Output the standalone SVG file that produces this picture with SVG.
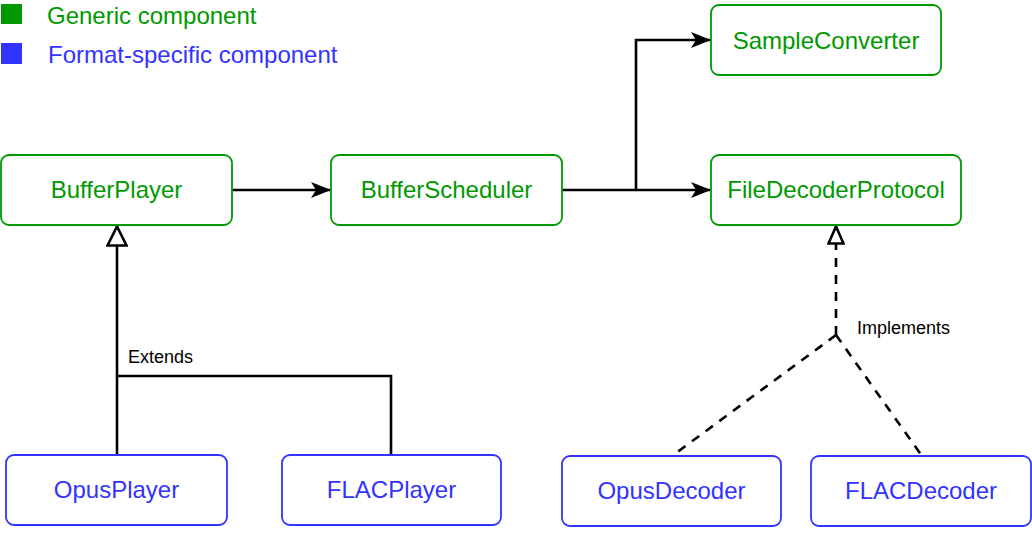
<svg xmlns="http://www.w3.org/2000/svg" width="1032" height="539" viewBox="0 0 1032 539">
<defs>
<style>
.g rect{fill:#fff;stroke:#009900;stroke-width:1.8}
.b rect{fill:#fff;stroke:#3333FF;stroke-width:1.8}
.g text{fill:#009900}
.b text{fill:#3333FF}
text{font-family:"Liberation Sans",Arial,sans-serif}
.nt{font-size:24px;text-anchor:middle;dominant-baseline:central}
.lg{font-size:24px;dominant-baseline:central}
.lbl{font-size:18px;fill:#000;dominant-baseline:central}
.c{fill:none;stroke:#000;stroke-width:2.6}
.d{stroke-dasharray:9 8}
</style>
<marker id="arr" viewBox="0 0 20 16" refX="19" refY="8" markerWidth="20" markerHeight="16" markerUnits="userSpaceOnUse" orient="auto">
<path d="M0,0 L20,8 L0,16 L5,8 Z" fill="#000"/>
</marker>
<marker id="tri" viewBox="0 0 22 22" refX="21" refY="11" markerWidth="22" markerHeight="22" markerUnits="userSpaceOnUse" orient="auto">
<path d="M1.5,1.5 L20.5,11 L1.5,20.5 Z" fill="#fff" stroke="#000" stroke-width="2.6"/>
</marker>
<marker id="tri2" viewBox="0 0 20 18" refX="19" refY="9" markerWidth="20" markerHeight="18" markerUnits="userSpaceOnUse" orient="auto">
<path d="M1.5,1.5 L18.5,9 L1.5,16.5 Z" fill="#fff" stroke="#000" stroke-width="2.6"/>
</marker>
</defs>
<g id="legend">
<rect x="1" y="4" width="21" height="20" fill="#009900"/>
<text class="lg" x="47" y="15" fill="#009900">Generic component</text>
<rect x="1" y="43" width="21" height="21" fill="#3333FF"/>
<text class="lg" x="48" y="54" fill="#3333FF">Format-specific component</text>
</g>
<g id="connectors">
<path class="c" d="M232,190 H330" marker-end="url(#arr)"/>
<path class="c" d="M562,190 H710" marker-end="url(#arr)"/>
<path class="c" d="M636,190 V40 H710" marker-end="url(#arr)"/>
<path class="c" d="M117,455 V226" marker-end="url(#tri)"/>
<path class="c" d="M391,455 V376 H117"/>
<path class="c d" d="M836,335 V226" marker-end="url(#tri2)"/>
<path class="c d" d="M836,335 L672,456"/>
<path class="c d" d="M836,335 L922,456"/>
<text class="lbl" x="128" y="357">Extends</text>
<text class="lbl" x="857" y="328">Implements</text>
</g>
<g id="SampleConverter" class="g"><rect x="711" y="5" width="230" height="70" rx="8"/><text class="nt" x="826" y="40">SampleConverter</text></g>
<g id="BufferPlayer" class="g"><rect x="1" y="155" width="231" height="70" rx="8"/><text class="nt" x="116.5" y="189">BufferPlayer</text></g>
<g id="BufferScheduler" class="g"><rect x="331" y="155" width="231" height="70" rx="8"/><text class="nt" x="446.5" y="189">BufferScheduler</text></g>
<g id="FileDecoderProtocol" class="g"><rect x="711" y="155" width="250" height="70" rx="8"/><text class="nt" x="836" y="189">FileDecoderProtocol</text></g>
<g id="OpusPlayer" class="b"><rect x="6" y="455" width="221" height="70" rx="8"/><text class="nt" x="116.5" y="489">OpusPlayer</text></g>
<g id="FLACPlayer" class="b"><rect x="282" y="455" width="219" height="70" rx="8"/><text class="nt" x="391.5" y="489">FLACPlayer</text></g>
<g id="OpusDecoder" class="b"><rect x="562" y="456" width="219" height="70" rx="8"/><text class="nt" x="671.5" y="490">OpusDecoder</text></g>
<g id="FLACDecoder" class="b"><rect x="811" y="456" width="220" height="70" rx="8"/><text class="nt" x="921" y="490">FLACDecoder</text></g>
</svg>
